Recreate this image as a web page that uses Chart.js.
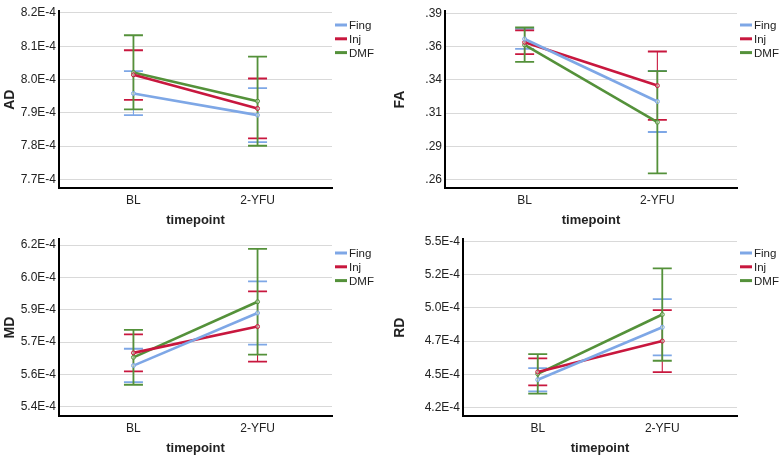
<!DOCTYPE html>
<html>
<head>
<meta charset="utf-8">
<script src="https://cdn.jsdelivr.net/npm/chart.js@4"></script>
<style>
  html, body { margin: 0; padding: 0; background: #fff; }
  #wrap { position: relative; width: 779px; height: 456px; overflow: hidden; }
  .panel { position: absolute; height: 228px; }
</style>
</head>
<body>
<div id="wrap">
  <div class="panel" style="left:0;top:0;width:390px"><canvas id="ad-chart"></canvas></div>
  <div class="panel" style="left:390px;top:0;width:389px"><canvas id="fa-chart"></canvas></div>
  <div class="panel" style="left:0;top:228px;width:390px"><canvas id="md-chart"></canvas></div>
  <div class="panel" style="left:390px;top:228px;width:389px"><canvas id="rd-chart"></canvas></div>
</div>
<script>
// --- données ---
const timepoints = ['BL', '2-YFU'];
const groups = ['Fing', 'Inj', 'DMF'];
const groupColors = ['#7ea7e6', '#c8173e', '#54913a'];

// AD (rows = Fing, Inj, DMF ; cols = BL, 2-YFU)
const adMean = [[7.958e-4, 7.893e-4], [8.014e-4, 7.913e-4], [8.021e-4, 7.935e-4]];
const adLow  = [[7.893e-4, 7.812e-4], [7.939e-4, 7.823e-4], [7.910e-4, 7.801e-4]];
const adHigh = [[8.025e-4, 7.974e-4], [8.088e-4, 8.003e-4], [8.133e-4, 8.069e-4]];
const adTicks = [7.7e-4, 7.8e-4, 7.9e-4, 8.0e-4, 8.1e-4, 8.2e-4];
const adTickLabels = ['7.7E-4', '7.8E-4', '7.9E-4', '8.0E-4', '8.1E-4', '8.2E-4'];

// FA
const faMean = [[0.3658, 0.3187], [0.3633, 0.3307], [0.3614, 0.3031]];
const faLow  = [[0.3583, 0.2957], [0.3544, 0.3049], [0.3486, 0.2646]];
const faHigh = [[0.3735, 0.3417], [0.3723, 0.3564], [0.3745, 0.3416]];
const faTicks = [0.26, 0.285, 0.31, 0.335, 0.36, 0.385];
const faTickLabels = ['.26', '.29', '.31', '.34', '.36', '.39'];

// MD
const mdMean = [[5.591e-4, 5.835e-4], [5.650e-4, 5.772e-4], [5.629e-4, 5.887e-4]];
const mdLow  = [[5.514e-4, 5.688e-4], [5.564e-4, 5.609e-4], [5.502e-4, 5.642e-4]];
const mdHigh = [[5.669e-4, 5.982e-4], [5.736e-4, 5.935e-4], [5.757e-4, 6.133e-4]];
const mdTicks = [5.4e-4, 5.55e-4, 5.7e-4, 5.85e-4, 6.0e-4, 6.15e-4];
const mdTickLabels = ['5.4E-4', '5.6E-4', '5.7E-4', '5.9E-4', '6.0E-4', '6.2E-4'];

// RD
const rdMean = [[4.409e-4, 4.804e-4], [4.468e-4, 4.700e-4], [4.453e-4, 4.900e-4]];
const rdLow  = [[4.321e-4, 4.593e-4], [4.366e-4, 4.466e-4], [4.304e-4, 4.552e-4]];
const rdHigh = [[4.497e-4, 5.016e-4], [4.569e-4, 4.933e-4], [4.602e-4, 5.247e-4]];
const rdTicks = [4.2e-4, 4.45e-4, 4.7e-4, 4.95e-4, 5.2e-4, 5.45e-4];
const rdTickLabels = ['4.2E-4', '4.5E-4', '4.7E-4', '5.0E-4', '5.2E-4', '5.5E-4'];

const FONT = '"Liberation Sans", Arial, sans-serif';
const TEXT = '#222';

// légende à droite, dessinée à la main (style SPSS)
const sideLegend = {
    id: 'sideLegend',
    afterDraw(chart) {
        const ctx = chart.ctx;
        const x = chart.chartArea.right + 3;
        ctx.save();
        ctx.font = '11.5px ' + FONT;
        ctx.textBaseline = 'middle';
        groups.forEach((g, i) => {
            const y = 25 + i * 13.8;
            ctx.strokeStyle = groupColors[i];
            ctx.lineWidth = 3;
            ctx.beginPath();
            ctx.moveTo(x, y);
            ctx.lineTo(x + 12, y);
            ctx.stroke();
            ctx.fillStyle = TEXT;
            ctx.fillText(g, x + 14, y + 1);
        });
        ctx.restore();
    }
};

function makePanel(id, title, mean, low, high, ticks, tickLabels, yMin, yMax, axisWidth, padTop, padRight) {
    const datasets = [];

    // lignes des moyennes
    groups.forEach((g, i) => {
        datasets.push({
            label: g,
            data: timepoints.map((t, j) => ({ x: j, y: mean[i][j] })),
            borderColor: groupColors[i],
            borderWidth: 2.6,
            pointRadius: 2,
            pointBorderWidth: 1,
            pointBorderColor: groupColors[i],
            pointBackgroundColor: 'rgba(255,255,255,0.4)',
            order: 1
        });
    });

    // barres d'erreur (vertical + chapeaux) - le vert (DMF) passe dessus
    groups.forEach((g, i) => {
        timepoints.forEach((t, j) => {
            datasets.push({
                label: g + ' ' + t + ' IC',
                data: [{ x: j, y: low[i][j] }, { x: j, y: high[i][j] }],
                borderColor: groupColors[i],
                borderWidth: i === 2 ? 1.8 : 1.1,
                pointStyle: 'line',
                pointRadius: 9.5,
                pointBorderWidth: 1.8,
                pointBorderColor: groupColors[i],
                order: 4 - i
            });
        });
    });

    new Chart(document.getElementById(id), {
        type: 'line',
        data: { datasets },
        options: {
            responsive: true,
            maintainAspectRatio: false,
            devicePixelRatio: 1,
            animation: false,
            events: [],
            layout: { padding: { top: padTop, right: padRight, left: 0, bottom: 0 } },
            plugins: {
                legend: { display: false },
                tooltip: { enabled: false }
            },
            scales: {
                x: {
                    type: 'linear',
                    min: -0.6,
                    max: 1.6,
                    afterBuildTicks: (scale) => { scale.ticks = timepoints.map((t, j) => ({ value: j })); },
                    afterFit: (scale) => { scale.height = 40; },
                    ticks: {
                        callback: (v, idx) => timepoints[idx],
                        color: TEXT,
                        font: { family: FONT, size: 12 },
                        padding: 5,
                        maxRotation: 0
                    },
                    grid: { display: false, drawTicks: false },
                    border: { display: true, color: '#000', width: 2 },
                    title: {
                        display: true,
                        text: 'timepoint',
                        color: TEXT,
                        font: { family: FONT, size: 13, weight: 'bold' },
                        padding: { top: 1, bottom: 0 }
                    }
                },
                y: {
                    min: yMin,
                    max: yMax,
                    afterBuildTicks: (scale) => { scale.ticks = ticks.map(v => ({ value: v })); },
                    afterFit: (scale) => { scale.width = axisWidth; },
                    ticks: {
                        callback: (v, idx) => tickLabels[idx],
                        color: TEXT,
                        font: { family: FONT, size: 12 },
                        padding: 3
                    },
                    grid: { color: '#d9d9d9', lineWidth: 1, drawTicks: false },
                    border: { display: true, color: '#000', width: 2 },
                    title: {
                        display: true,
                        text: title,
                        color: TEXT,
                        font: { family: FONT, size: 14, weight: 'bold' },
                        padding: { top: 2, bottom: 1 }
                    }
                }
            }
        },
        plugins: [sideLegend]
    });
}

document.addEventListener('DOMContentLoaded', () => {
    makePanel('ad-chart', 'AD', adMean, adLow, adHigh, adTicks, adTickLabels, 7.674e-4, 8.205e-4, 59, 5, 58);
    makePanel('fa-chart', 'FA', faMean, faLow, faHigh, faTicks, faTickLabels, 0.2535, 0.3867, 55, 5, 42);
    makePanel('md-chart', 'MD', mdMean, mdLow, mdHigh, mdTicks, mdTickLabels, 5.357e-4, 6.177e-4, 59, 4, 58);
    makePanel('rd-chart', 'RD', rdMean, rdLow, rdHigh, rdTicks, rdTickLabels, 4.136e-4, 5.466e-4, 73, 1, 42);
});
</script>
</body>
</html>
